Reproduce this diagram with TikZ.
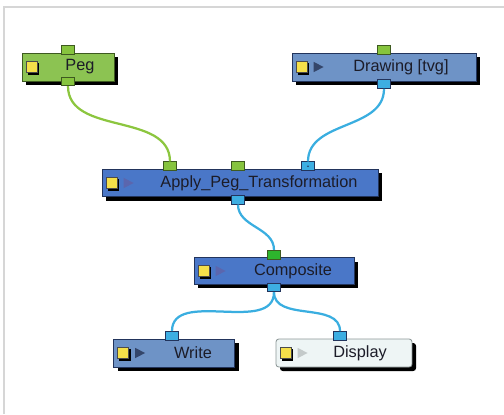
\documentclass[tikz,border=0pt]{standalone}
\usepackage{fontspec}
\setmainfont{Liberation Sans}
\usepackage{xcolor}
\usepackage{tikz}
\usetikzlibrary{positioning, shadows}
\definecolor{peggreen}{HTML}{8CC352}
\definecolor{pegedge}{HTML}{3E5A20}
\definecolor{lightblue}{HTML}{6E93C6}
\definecolor{darkblue}{HTML}{4A77C8}
\definecolor{blueedge}{HTML}{22345C}
\definecolor{paleface}{HTML}{EEF5F5}
\definecolor{paleedge}{HTML}{8C9696}
\definecolor{portgreen}{HTML}{86C43E}
\definecolor{portlime}{HTML}{2DB52D}
\definecolor{portblue}{HTML}{3DAEE2}
\definecolor{wiregreen}{HTML}{8CC63F}
\definecolor{wireblue}{HTML}{3AAEE0}
\definecolor{iconyellow}{HTML}{F5E04A}
\definecolor{tridark}{HTML}{34466A}
\definecolor{triblue}{HTML}{5B66AE}
\definecolor{trilight}{HTML}{C4CACA}
\definecolor{framegray}{HTML}{D6D6D6}
\definecolor{labeltext}{HTML}{1C1C28}

\begin{document}
\begin{tikzpicture}[node distance=2.2cm]
 \tikzstyle{module}=[rectangle,draw=blueedge,line width=0.6pt,minimum height=.7cm,
   text=labeltext,font=\fontsize{11.6}{14}\selectfont,
   drop shadow={opacity=1,fill=black,shadow xshift=.1cm,shadow yshift=-.1cm}]
 \tikzstyle{pegbox}=[module,fill=peggreen,draw=pegedge]
 \tikzstyle{elembox}=[module,fill=lightblue]
 \tikzstyle{fxbox}=[module,fill=darkblue]
 \tikzstyle{viewbox}=[module,fill=paleface,draw=paleedge,rounded corners=2pt]
 \tikzstyle{port}=[rectangle,line width=0.5pt,minimum width=.32cm,
   minimum height=.22cm,inner sep=0pt]
 \tikzstyle{inport}=[port,fill=portgreen,draw=pegedge,anchor=south,yshift=-.05cm]
 \tikzstyle{outport}=[port,fill=portblue,draw=blueedge,anchor=north,yshift=.05cm]
 \tikzstyle{wire}=[line width=1.6pt,wireblue]
 \useasboundingbox (0,0) rectangle (12.6,-10.35);
 \draw[framegray,line width=1.5pt] (0.1,-10.35) |- (12.6,-0.175);
 \node (peg) [pegbox,minimum width=2.3cm] at (1.7,-1.675) {\hspace*{.6cm}Peg};
 \node (drawing) [elembox,right of=peg,xshift=5.7cm,minimum width=4.6cm]
   {\hspace*{.85cm}Drawing [tvg]};
 \node (apply) [fxbox,below of=peg,xshift=4.3cm,yshift=-.7cm,
   minimum width=6.9cm,minimum height=.68cm]
   {\hspace*{.95cm}Apply\_Peg\_Transformation};
 \node (comp) [fxbox,below of=apply,xshift=.85cm,minimum width=4cm,
   minimum height=.66cm] {\hspace*{.95cm}Composite};
 \node (write) [elembox,below of=comp,xshift=-2.5cm,yshift=.15cm,
   minimum width=3.025cm] {\hspace*{.95cm}Write};
 \node (disp) [viewbox,right of=write,xshift=2.05cm,minimum width=3.4cm]
   {\hspace*{.8cm}Display};
 \foreach \n in {peg,drawing,apply,comp,write,disp} {
   \fill[black] ([shift={(.16,-.19)}]\n.west) rectangle +(.28,.28);
   \filldraw[fill=iconyellow,draw=black!70,line width=0.3pt]
     ([shift={(.11,-.14)}]\n.west) rectangle +(.28,.28);
 }
 \foreach \n/\c in {drawing/tridark,apply/triblue,comp/triblue,write/tridark,disp/trilight}
   \fill[\c] ([shift={(.55,.13)}]\n.west) -- ++(.25,-.13) -- ++(-.25,-.13) -- cycle;
 \node (peg-in) [inport] at (peg.north) {};
 \node (peg-out) [inport,anchor=center,yshift=.05cm] at (peg.south) {};
 \node (drawing-in) [inport] at (drawing.north) {};
 \node (drawing-out) [outport] at (drawing.south) {};
 \node (apply-in1) [inport] at ([xshift=-1.75cm]apply.north) {};
 \node (apply-in2) [inport] at ([xshift=-.05cm]apply.north) {};
 \node (apply-in3) [outport,anchor=south,yshift=-.1cm] at ([xshift=1.7cm]apply.north) {};
 \node (apply-out) [outport] at ([xshift=-.05cm]apply.south) {};
 \node (comp-in) [inport,fill=portlime] at (comp.north) {};
 \node (comp-out) [outport] at (comp.south) {};
 \node (write-in) [outport,anchor=south,yshift=-.1cm] at ([xshift=-.05cm]write.north) {};
 \node (disp-in) [outport,anchor=south,yshift=-.1cm] at ([xshift=-.1cm]disp.north) {};
 \fill[blueedge] (apply-in3) circle (0.6pt);
 \draw[wire,wiregreen] (peg-out) to[out=-90,in=90] (apply-in1);
 \draw[wire] (drawing-out) to[out=-90,in=90] (apply-in3);
 \draw[wire] (apply-out) to[out=-90,in=90] (comp-in);
 \draw[wire] (comp-out) to[out=-90,in=90] (write-in);
 \draw[wire] (comp-out) to[out=-90,in=90] (disp-in);
\end{tikzpicture}
\end{document}
